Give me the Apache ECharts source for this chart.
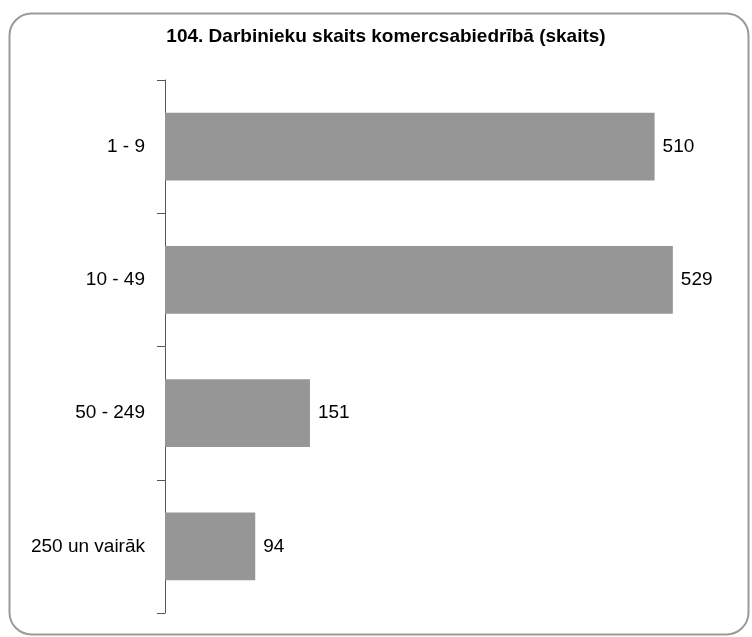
<!DOCTYPE html>
<html><head><meta charset="utf-8">
<script src="https://cdn.jsdelivr.net/npm/echarts@6/dist/echarts.min.js"></script>
<style>html,body{margin:0;padding:0;background:#fff}#c{width:752px;height:637px}</style>
</head><body><div id="c"></div>
<script>
const titleText = '104. Darbinieku skaits komercsabiedrībā (skaits)';
const categories = ['1 - 9', '10 - 49', '50 - 249', '250 un vairāk'];
const values = [510, 529, 151, 94];

const chart = echarts.init(document.getElementById('c'), null, {renderer: 'canvas'});
chart.setOption({
  backgroundColor: '#fff',
  animation: false,
  title: {
    text: titleText, left: 381, top: 22, textAlign: 'center',
    textStyle: {fontFamily: '"Liberation Sans",Arial,sans-serif', fontWeight: 'bold', fontSize: 19, color: '#000'}
  },
  graphic: [{
    type: 'rect', left: 7, top: 11, z: -1,
    shape: {width: 739, height: 621, r: 22},
    style: {fill: 'none', stroke: '#9a9a9a', lineWidth: 2}
  }],
  grid: {left: 165, top: 80, bottom: 24, right: 11, containLabel: false},
  xAxis: {type: 'value', min: 0, max: 600, show: false},
  yAxis: {
    type: 'category', data: categories, inverse: true,
    axisLine: {show: true, lineStyle: {color: '#555', width: 1}},
    axisTick: {show: true, length: 8, lineStyle: {color: '#555'}},
    axisLabel: {margin: 20, fontSize: 19, color: '#000', fontFamily: '"Liberation Sans",Arial,sans-serif'},
    splitLine: {show: false}
  },
  series: [{
    type: 'bar', data: values, barWidth: '51%',
    itemStyle: {color: '#969696'},
    label: {show: true, position: 'right', distance: 8, fontSize: 19, color: '#000', fontFamily: '"Liberation Sans",Arial,sans-serif'}
  }]
});
</script></body></html>
